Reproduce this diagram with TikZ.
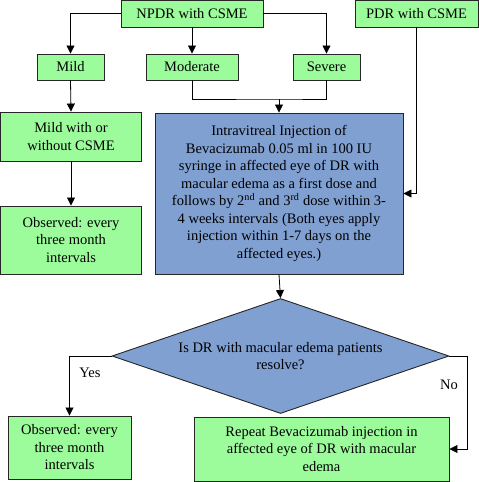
\documentclass[tikz,border=0pt]{standalone}
\usepackage{fontspec}
\setmainfont{Liberation Serif}
\usetikzlibrary{shapes.geometric,arrows.meta}
\definecolor{boxgreen}{RGB}{156,252,156}
\definecolor{boxblue}{RGB}{128,160,210}
\begin{document}
\begin{tikzpicture}[x=1pt,y=-1pt,
    font=\fontsize{14.5}{17.5}\selectfont,
    box/.style={draw=black!85,line width=0.9pt,fill=boxgreen,inner sep=0pt,align=center},
    bluebox/.style={box,fill=boxblue},
    decision/.style={draw=black!85,line width=0.9pt,fill=boxblue,diamond,aspect=2.93,inner sep=0pt,align=center},
    arr/.style={line width=0.8pt,-{Triangle[length=8pt,width=8pt]}}]
  \useasboundingbox (0,0) rectangle (479,482);
  \node[box,minimum width=142,minimum height=27] (npdr) at (192,13.5) {NPDR with CSME};
  \node[box,minimum width=123,minimum height=27] (pdr) at (416.5,13.5) {PDR with CSME};
  \node[box,minimum width=67,minimum height=26] (mild) at (70.5,67) {Mild};
  \node[box,minimum width=92,minimum height=26] (moderate) at (192,67) {Moderate};
  \node[box,minimum width=67,minimum height=26] (severe) at (326.5,67) {Severe};
  \node[box,minimum width=141,minimum height=49] (mildw) at (71,136.5) {Mild with or\\without CSME};
  \node[box,minimum width=141,minimum height=68] (obs1) at (71,240) {Observed: every\\three month\\intervals};
  \node[bluebox,minimum width=248,minimum height=161] (inj) at (279,193.5)
    {Intravitreal Injection of\\Bevacizumab 0.05 ml in 100 IU\\syringe in affected eye of DR with\\macular edema as a first dose and\\follows by 2\textsuperscript{nd} and 3\textsuperscript{rd} dose within 3-\\4 weeks intervals (Both eyes apply\\injection within 1-7 days on the\\affected eyes.)};
  \node[decision,minimum width=337,minimum height=115] (dec) at (280.5,356) {Is DR with macular edema patients\\resolve?};
  \node[box,minimum width=123,minimum height=63] (obs2) at (69.5,447.5) {Observed: every\\three month\\intervals};
  \node[box,minimum width=255,minimum height=64] (rep) at (321.5,449) {Repeat Bevacizumab injection in\\affected eye of DR with macular\\edema};
  \node (yes) at (90,373) {Yes};
  \node (no) at (449,385) {No};
  \coordinate (mj) at (279,99);
  \draw[arr] (npdr.west) -| (mild.north);
  \draw[arr] (npdr.south) -- (moderate.north);
  \draw[arr] (npdr.east) -| (severe.north);
  \draw[line width=0.8pt] (moderate.south) |- (mj) -| (severe.south);
  \draw[arr] (mj) -- (inj.north);
  \draw[arr] (mild.south) -- (mildw.north);
  \draw[arr] (mildw.south) -- (obs1.north);
  \draw[arr] (pdr.south) |- (inj.east);
  \draw[arr] (inj.south) -- (dec.north);
  \draw[arr] (dec.west) -| (obs2.north);
  \draw[arr] (dec.east) -- ++(18,0) |- (rep.east);
\end{tikzpicture}
\end{document}
